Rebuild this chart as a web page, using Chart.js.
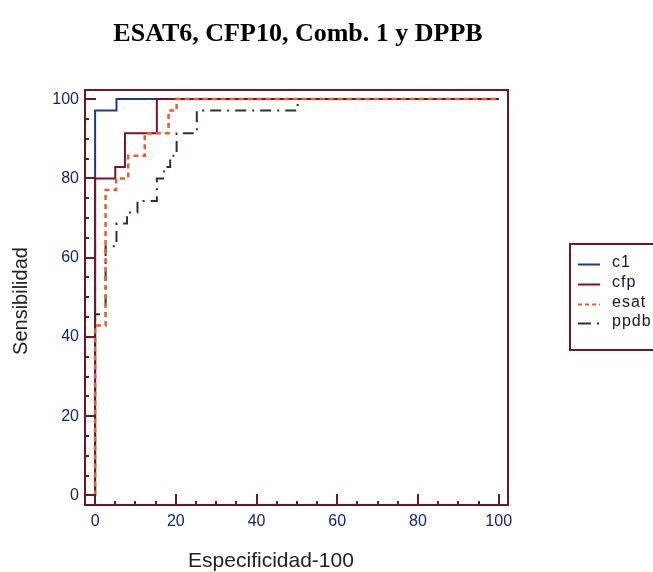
<!DOCTYPE html>
<html>
<head>
<meta charset="utf-8">
<script src="https://cdn.jsdelivr.net/npm/chart.js@4.4.1/dist/chart.umd.min.js"></script>
<style>
  html,body{margin:0;padding:0;background:#fff;}
  #wrap{width:653px;height:572px;position:relative;}
</style>
</head>
<body>
<div id="wrap"><canvas id="roc" width="653" height="572"></canvas></div>
<script>
/* ---- data ---- */
const seriesNames = ['c1', 'cfp', 'esat', 'ppdb'];

const c1X = [0, 0, 5.3, 5.3, 100];
const c1Y = [0, 97.1, 97.1, 100, 100];

const cfpX = [0, 0, 5.0, 5.0, 7.4, 7.4, 15.3, 15.3, 100];
const cfpY = [0, 80, 80, 82.9, 82.9, 91.4, 91.4, 100, 100];

const esatX = [0, 0, 2.6, 2.6, 5.2, 5.2, 8.2, 8.2, 12.3, 12.3, 18.2, 18.2, 20.2, 20.2, 100];
const esatY = [0, 42.9, 42.9, 77.1, 77.1, 80, 80, 85.7, 85.7, 91.4, 91.4, 97.1, 97.1, 100, 100];

const ppdbX = [0, 0, 2.6, 2.6, 5.3, 5.3, 7.9, 7.9, 10.5, 10.5, 15.3, 15.3, 17.1, 17.1, 18.6, 18.6, 20.2, 20.2, 25.2, 25.2, 50.2, 50.2, 100];
const ppdbY = [0, 45.7, 45.7, 62.9, 62.9, 68.6, 68.6, 71.4, 71.4, 74.3, 74.3, 80, 80, 82.9, 82.9, 85.7, 85.7, 91.4, 91.4, 97.1, 97.1, 100, 100];

const tickLabels = [0, 20, 40, 60, 80, 100];

const pts = (xs, ys) => xs.map((x, i) => ({ x: x, y: ys[i] }));

const FRAME = '#6e1726';
const TICKTXT = '#16237a';

/* ---- frame, inward ticks, texts, legend ---- */
const decor = {
  id: 'decor',
  afterDraw(chart){
    const ctx = chart.ctx, a = chart.chartArea;
    const xs = chart.scales.x, ys = chart.scales.y;
    ctx.save();
    ctx.strokeStyle = FRAME;
    ctx.lineWidth = 2;
    ctx.strokeRect(a.left, a.top, a.right - a.left, a.bottom - a.top);
    // ticks every 5, long every 20
    for (let v = 0; v <= 100; v += 5){
      const len = v % 20 === 0 ? 11 : 4;
      const px = Math.round(xs.getPixelForValue(v));
      const py = Math.round(ys.getPixelForValue(v));
      ctx.beginPath();
      ctx.moveTo(px, a.bottom); ctx.lineTo(px, a.bottom - len);
      ctx.moveTo(a.left, py); ctx.lineTo(a.left + len, py);
      ctx.stroke();
    }
    // title
    ctx.fillStyle = '#000';
    ctx.textAlign = 'center';
    ctx.textBaseline = 'middle';
    ctx.font = 'bold 26px "Liberation Serif", "Times New Roman", serif';
    ctx.fillText('ESAT6, CFP10, Comb. 1 y DPPB', 298, 34);
    // axis titles
    ctx.fillStyle = '#222';
    ctx.font = '21px "Liberation Sans", Arial, sans-serif';
    ctx.fillText('Especificidad-100', 271, 561);
    ctx.save();
    ctx.translate(21, 301);
    ctx.rotate(-Math.PI / 2);
    ctx.font = '20px "Liberation Sans", Arial, sans-serif';
    ctx.fillText('Sensibilidad', 0, 0);
    ctx.restore();
    // legend box
    const lx = 570, ly = 244, lw = 100, lh = 106;
    ctx.strokeStyle = FRAME;
    ctx.lineWidth = 2;
    ctx.strokeRect(lx, ly, lw, lh);
    const rows = [264, 284, 304, 323];
    ctx.textAlign = 'left';
    ctx.font = '16px "Liberation Sans", Arial, sans-serif';
    ctx.letterSpacing = '1px';
    chart.data.datasets.forEach((ds, i) => {
      const y = rows[i];
      ctx.save();
      ctx.strokeStyle = ds.borderColor;
      ctx.lineWidth = 2;
      ctx.setLineDash(ds.legendDash || []);
      ctx.beginPath();
      ctx.moveTo(578, y + 0.5); ctx.lineTo(600, y + 0.5);
      ctx.stroke();
      ctx.restore();
      ctx.fillStyle = '#14143a';
      ctx.fillText(ds.label, 612, y - 1);
    });
    ctx.restore();
  }
};

const tickList = s => { s.ticks = tickLabels.map(v => ({ value: v })); };

new Chart(document.getElementById('roc'), {
  type: 'scatter',
  data: {
    datasets: [
      { label: seriesNames[0], data: pts(c1X, c1Y), borderColor: '#1d3a94', borderWidth: 2, order: 3 },
      { label: seriesNames[1], data: pts(cfpX, cfpY), borderColor: '#7a1526', borderWidth: 2, order: 2 },
      { label: seriesNames[2], data: pts(esatX, esatY), borderColor: '#f2592c', borderWidth: 2.5, borderDash: [5, 4], legendDash: [4, 3], order: 0 },
      { label: seriesNames[3], data: pts(ppdbX, ppdbY), borderColor: '#24381f', borderWidth: 2, borderDash: [11, 6, 2, 6], legendDash: [13, 6, 2, 20], order: 1 }
    ].map(d => Object.assign({ showLine: true, pointRadius: 0, fill: false, tension: 0, clip: false }, d))
  },
  options: {
    responsive: false,
    animation: false,
    layout: { padding: { top: 90, right: 145, left: 0, bottom: 0 } },
    plugins: { legend: { display: false }, tooltip: { enabled: false }, title: { display: false } },
    scales: {
      x: {
        type: 'linear', min: -2.5, max: 102.3,
        border: { display: false },
        grid: { display: false, drawTicks: false },
        afterBuildTicks: tickList,
        ticks: {
          autoSkip: false, maxRotation: 0, padding: 7,
          color: TICKTXT, font: { size: 16, family: '"Liberation Sans", Arial, sans-serif' },
          callback: v => String(v)
        },
        afterFit: s => { s.height = 67; }
      },
      y: {
        type: 'linear', min: -2.4, max: 102.3,
        border: { display: false },
        grid: { display: false, drawTicks: false },
        afterBuildTicks: tickList,
        ticks: {
          autoSkip: false, padding: 6,
          color: TICKTXT, font: { size: 16, family: '"Liberation Sans", Arial, sans-serif' },
          callback: v => String(v)
        },
        afterFit: s => { s.width = 85; }
      }
    }
  },
  plugins: [decor]
});
</script>
</body>
</html>
